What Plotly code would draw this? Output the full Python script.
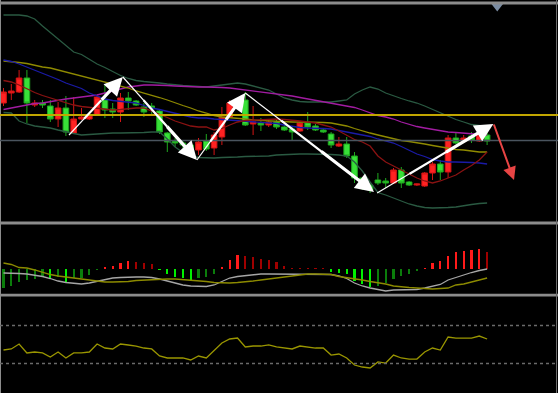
import plotly.graph_objects as go

# ---------------- data (63 bars) ----------------
OPEN = [137, 147, 148, 162, 135, 137, 134, 121, 132, 107, 121, 121, 125, 140, 131, 128, 142, 139, 133, 134,
        129, 107, 99, 97, 95, 90, 99, 92, 103, 123, 137, 140, 116, 117, 115, 118, 113, 111, 109, 117,
        114, 110, 106, 94, 96, 84, 62, 55, 60, 59, 57, 70, 58, 55, 54, 67, 76, 68, 102, 99,
        104, 99, 105]
HIGH = [152, 156, 170, 170, 140, 140, 140, 138, 144, 143, 132, 127, 145, 156, 137, 147, 148, 140, 137, 137,
        130, 108, 102, 100, 97, 102, 106, 108, 133, 140, 142, 148, 134, 122, 120, 120, 115, 113, 118, 128,
        116, 111, 108, 103, 103, 88, 63, 57, 67, 62, 72, 73, 59, 56.5, 68, 78, 80, 105, 107, 105,
        108, 110, 108]
LOW = [134, 140, 147, 117, 133, 132, 118, 113, 104, 106, 120, 120, 124, 122, 122, 118, 130, 134, 123, 125,
       106, 88, 93, 92, 87, 85, 89, 85, 95, 122, 136, 114, 105, 109, 113, 111, 109, 100, 108, 110,
       109, 107, 92, 93, 82, 57, 50, 47, 55, 52, 56, 52, 54, 54, 53, 60, 60, 62, 96, 97,
       97, 98, 95]
CLOSE = [148, 149, 162, 137, 137, 135, 121, 132, 108, 121, 123, 125, 143, 130, 128, 142, 139, 135, 128, 132,
         108, 98, 97, 95, 89, 98, 91, 105, 123, 137, 140, 115, 118, 115, 118, 113, 110, 108, 117, 113,
         110, 108, 95, 96, 84, 62, 53, 50, 57, 57, 70, 57, 55, 56, 67, 76, 68, 102, 97, 102,
         100, 105, 99]

BB_UPPER = [225, 225, 225, 224, 221, 214, 207.5, 201.5, 195, 188, 185.5, 180.5, 176, 172.5, 168.5, 164.5, 161.5,
            159.5, 158.5, 158, 157, 156, 155, 154.5, 154, 153.5, 153, 154, 155, 156, 157, 156, 154, 152, 150,
            146, 142, 140, 138.5, 138, 138, 138, 138, 139, 140, 146, 150, 153, 151, 147, 144, 141.5, 139,
            137, 134, 130.5, 127, 123.5, 120.5, 118, 115.5, 114.5, 113]
BB_LOWER = [127.5, 127, 119, 116, 114, 113, 112, 110, 108, 106.5, 105, 105.5, 106.5, 107, 107, 107, 107, 107,
            107.5, 108, 108, 101, 93, 87.5, 84, 82.5, 82, 82, 82.5, 82.5, 83, 83.5, 83.5, 84, 84, 85, 85.5,
            86, 86, 86, 86, 86, 85.5, 85, 84, 78, 69, 58, 47.5, 45, 42, 38.5, 36, 34, 32.5, 32, 32, 32.5,
            33, 34.5, 35.5, 36.5, 37]
MA_RED = [159.5, 158, 155, 151, 147.5, 144.5, 142, 139.5, 137, 135, 133.5, 132.5, 132, 131, 130, 130.5, 131.5,
          132, 132, 129, 125.5, 122.5, 119, 116.5, 114, 113, 113, 110, 111.5, 115, 118, 119.5, 120, 120,
          120.5, 121, 120.5, 120, 119, 118, 117, 115, 113, 109, 104.5, 100.5, 98, 94, 84, 78, 74, 70, 66,
          62, 59, 57, 59, 62, 65, 70, 74.5, 80, 88]
MA_BLUE = [180, 178.5, 176, 173, 170, 167, 164, 160.5, 157, 154.5, 151.5, 147, 144, 141, 139.5, 138.5, 137.5,
           137, 134.5, 132, 130.5, 128.5, 127, 125, 123, 122, 122, 121, 120.5, 119.5, 119, 118.5, 118, 117.5,
           117, 116.5, 115, 113.5, 112.5, 112, 112, 111.5, 111, 109.5, 108, 106.5, 105, 103.5, 101, 99, 97,
           93.5, 90, 86, 83.5, 80.5, 79, 78, 78, 78, 77.5, 77, 76]
MA_OLIVE = [179, 178.5, 177.5, 176.5, 174.5, 173, 172, 170, 168, 166, 164, 162, 160.5, 158.5, 156.5, 154, 152,
            149, 147, 144.5, 142.5, 140, 137, 134.5, 132, 129, 127, 124.5, 123, 122.5, 122, 121, 120, 119.5,
            119, 118.5, 118, 118, 118, 118, 118, 117.5, 117, 115.5, 114, 111.5, 109, 107, 105, 103, 101, 99.5,
            98.5, 97.5, 96, 94.5, 93, 91.5, 90.5, 90, 89, 88, 88]
MA_PURPLE = [130.5, 132, 133.5, 135.5, 136.5, 137, 138.5, 140, 141, 142, 143, 144, 145, 147, 149, 151.5, 153,
             154, 155, 155, 155, 154.5, 154, 153.5, 153, 153, 153, 153, 152.5, 152, 151, 150, 149.5, 148.5,
             147.5, 146.5, 145.5, 144, 142.5, 141, 139.5, 138.5, 137, 135.5, 134, 132.5, 130, 127.5, 124.5,
             123, 121, 118, 115.5, 113.5, 112, 110.5, 109, 108, 107.5, 107, 106.5, 106, 105]

SUPPORT_LEVEL = 125.0   # yellow horizontal line
PIVOT_LEVEL = 99.5      # grey horizontal line

MACD_HIST = [-1.9, -1.7, -1.3, -1.1, -1.0, -0.8, -0.85, -0.8, -1.3, -0.9, -0.9, -0.6, -0.1, 0.2, 0.3, 0.6, 0.8,
             0.7, 0.6, 0.5, -0.1, -0.5, -0.8, -0.9, -1.1, -0.9, -0.8, -0.5, 0.2, 0.9, 1.4, 1.3, 1.2, 1.0, 0.9,
             0.7, 0.3, 0.1, 0.1, 0.1, 0.05, 0.05, -0.3, -0.4, -0.5, -1.2, -1.5, -1.8, -1.7, -1.4, -1.0, -0.7,
             -0.5, -0.2, 0.1, 0.6, 0.8, 1.3, 1.7, 1.8, 1.9, 2.0, 1.7]
MACD_MAIN = [-0.4, -0.4, -0.45, -0.5, -0.6, -0.75, -0.95, -1.2, -1.35, -1.45, -1.5, -1.4, -1.25, -1.1, -0.9,
             -0.85, -0.8, -0.8, -0.8, -0.85, -1.0, -1.2, -1.45, -1.6, -1.7, -1.75, -1.75, -1.6, -1.25, -0.9,
             -0.75, -0.65, -0.55, -0.5, -0.5, -0.5, -0.5, -0.5, -0.5, -0.5, -0.5, -0.5, -0.55, -0.7, -0.95,
             -1.4, -1.7, -1.9, -2.05, -2.2, -2.1, -2.1, -2.1, -2.05, -1.9, -1.75, -1.55, -1.1, -0.85, -0.55,
             -0.35, -0.15, 0.0]
MACD_SIGNAL = [0.6, 0.45, 0.15, 0.1, -0.1, -0.35, -0.55, -0.7, -0.8, -0.9, -1.0, -1.15, -1.25, -1.3, -1.3, -1.3,
               -1.25, -1.15, -1.1, -1.05, -1.0, -1.0, -1.0, -1.05, -1.15, -1.2, -1.25, -1.35, -1.4, -1.4, -1.35,
               -1.3, -1.2, -1.1, -1.0, -0.9, -0.8, -0.7, -0.6, -0.5, -0.5, -0.5, -0.55, -0.75, -0.85, -0.95,
               -1.1, -1.25, -1.35, -1.5, -1.7, -1.8, -1.85, -1.9, -1.95, -2.0, -1.95, -1.9, -1.6, -1.5, -1.3,
               -1.1, -0.9]

RSI = [44.2, 45.3, 50.5, 41.1, 42.1, 41.1, 36.8, 42.1, 35.8, 41.1, 41.1, 42.1, 50.5, 46.3, 45.3, 50.5, 49.5,
       48.4, 46.3, 45.3, 37.9, 35.8, 35.8, 35.8, 33.7, 37.9, 35.8, 43.2, 51.6, 55.8, 56.8, 47.4, 48.4, 48.4,
       49.5, 47.4, 46.3, 45.3, 48.4, 47.4, 46.3, 46.3, 38.9, 40.0, 35.8, 28.4, 26.3, 25.3, 31.6, 30.5, 38.9,
       35.8, 34.7, 34.7, 42.1, 46.3, 44.2, 57.9, 56.8, 56.8, 56.8, 58.9, 55.8]
RSI_LEVELS = [70, 30]

# hand-drawn swing arrows: (tail bar, tail price, head bar, head price)
WHITE_ARROWS = [(8.4, 105, 15.3, 163), (15.3, 163, 24.8, 80), (24.8, 80, 31.0, 147),
                (31.0, 147, 47.5, 48), (47.9, 47, 62.8, 116)]
RED_ARROW = (62.8, 117, 65.45, 60)
MARKER_POS = (63.3, 233.5)

# ---------------- figure ----------------
H = 393.0
N = len(OPEN)
X = list(range(N))
XR = [-0.449, 71.09]

fig = go.Figure()

line_specs = [
    (BB_UPPER, '#2a5a42'), (BB_LOWER, '#2a5a42'), (MA_PURPLE, '#a21ca2'),
    (MA_OLIVE, '#8f8a00'), (MA_BLUE, '#1a1aa6'), (MA_RED, '#8a1212'),
]
for ys, col in line_specs:
    fig.add_trace(go.Scatter(x=X, y=ys, mode='lines', line=dict(color=col, width=1.3),
                             xaxis='x', yaxis='y', hoverinfo='skip'))

fig.add_trace(go.Candlestick(
    x=X, open=OPEN, high=HIGH, low=LOW, close=CLOSE, xaxis='x', yaxis='y',
    increasing=dict(line=dict(color='#d41414', width=1), fillcolor='#ff2222'),
    decreasing=dict(line=dict(color='#1fa81f', width=1), fillcolor='#38e038'),
    whiskerwidth=0))

# MACD histogram colours: bright while growing, dark while shrinking
hist_colors = []
for i, v in enumerate(MACD_HIST):
    prev = MACD_HIST[i - 1] if i > 0 else v
    growing = i > 0 and (abs(v) > abs(prev) or v * prev < 0)
    if v >= 0:
        hist_colors.append('#ff1a1a' if growing else '#a00000')
    else:
        hist_colors.append('#00f000' if growing else '#0b7d0b')

fig.add_trace(go.Bar(x=X, y=MACD_HIST, marker=dict(color=hist_colors, line=dict(width=0)),
                     width=0.27, xaxis='x2', yaxis='y2', hoverinfo='skip'))
fig.add_trace(go.Scatter(x=X, y=MACD_MAIN, mode='lines', line=dict(color='#a6a6a6', width=1.3),
                         xaxis='x2', yaxis='y2', hoverinfo='skip'))
fig.add_trace(go.Scatter(x=X, y=MACD_SIGNAL, mode='lines', line=dict(color='#8c8a00', width=1.3),
                         xaxis='x2', yaxis='y2', hoverinfo='skip'))

fig.add_trace(go.Scatter(x=X, y=RSI, mode='lines', line=dict(color='#9a9600', width=1.3),
                         xaxis='x3', yaxis='y3', hoverinfo='skip'))

fig.add_trace(go.Scatter(x=[MARKER_POS[0]], y=[MARKER_POS[1]], mode='markers',
                         marker=dict(symbol='triangle-down', size=10, color='#7b8ca2'),
                         xaxis='x', yaxis='y', cliponaxis=False, hoverinfo='skip'))

def py(px):
    return 1 - px / H

shapes = []
# panel separators / frame
for top, bot in [(1.5, 4.5), (221.5, 224.5), (293.8, 296.5)]:
    shapes.append(dict(type='rect', xref='paper', yref='paper', x0=0, x1=1, y0=py(bot), y1=py(top),
                       fillcolor='#8c8c8c', line=dict(width=0), layer='above'))
shapes.append(dict(type='line', xref='paper', yref='paper', x0=0.5 / 558, x1=0.5 / 558, y0=0, y1=1,
                   line=dict(color='#8c8c8c', width=1), layer='above'))
shapes.append(dict(type='line', xref='paper', yref='paper', x0=556.5 / 558, x1=556.5 / 558, y0=0, y1=1,
                   line=dict(color='#6c6c6c', width=1), layer='above'))
shapes.append(dict(type='line', xref='paper', yref='y', x0=0, x1=1, y0=PIVOT_LEVEL, y1=PIVOT_LEVEL,
                   line=dict(color='#4a545e', width=1.6), layer='above'))
shapes.append(dict(type='line', xref='paper', yref='y', x0=0, x1=1, y0=SUPPORT_LEVEL, y1=SUPPORT_LEVEL,
                   line=dict(color='#c2a600', width=2), layer='above'))
for lv in RSI_LEVELS:
    shapes.append(dict(type='line', xref='paper', yref='y3', x0=0, x1=1, y0=lv, y1=lv,
                       line=dict(color='#6a6a6a', width=1.5, dash='dot'), layer='above'))

# tapered white arrows: thin near the tail, thick near the head
annotations = []
for ti, tp, hi, hp in WHITE_ARROWS:
    def at(f):
        return ti + (hi - ti) * f, tp + (hp - tp) * f
    for f0, f1, w in [(0.0, 0.3, 1.2), (0.28, 0.6, 2.2)]:
        x0, y0 = at(f0)
        x1, y1 = at(f1)
        shapes.append(dict(type='line', xref='x', yref='y', x0=x0, y0=y0, x1=x1, y1=y1,
                           line=dict(color='#ffffff', width=w), layer='above'))
    sx, sy = at(0.58)
    annotations.append(dict(x=hi, y=hp, ax=sx, ay=sy, xref='x', yref='y', axref='x', ayref='y',
                            text='', showarrow=True, arrowhead=2, arrowsize=1.15, arrowwidth=3.2,
                            arrowcolor='#ffffff'))
ti, tp, hi, hp = RED_ARROW
annotations.append(dict(x=hi, y=hp, ax=ti, ay=tp, xref='x', yref='y', axref='x', ayref='y',
                        text='', showarrow=True, arrowhead=2, arrowsize=1.3, arrowwidth=2,
                        arrowcolor='#e84444'))

fig.update_layout(
    width=558, height=393, margin=dict(l=0, r=0, t=0, b=0),
    paper_bgcolor='#000000', plot_bgcolor='#000000', showlegend=False,
    boxgap=0.15, boxgroupgap=0.15,
    xaxis=dict(domain=[0, 1], range=XR, visible=False, anchor='y', rangeslider=dict(visible=False)),
    xaxis2=dict(domain=[0, 1], range=XR, visible=False, anchor='y2'),
    xaxis3=dict(domain=[0, 1], range=XR, visible=False, anchor='y3'),
    yaxis=dict(domain=[py(221), py(5)], range=[19, 235], visible=False),
    yaxis2=dict(domain=[py(294), py(224)], range=[-2.5, 4.5], visible=False),
    yaxis3=dict(domain=[0, py(296)], range=[-1.05, 101.05], visible=False),
    shapes=shapes, annotations=annotations, bargap=0,
)

fig.write_html("out.html", config={'displayModeBar': False},
               post_script="document.body.style.margin='0';")
